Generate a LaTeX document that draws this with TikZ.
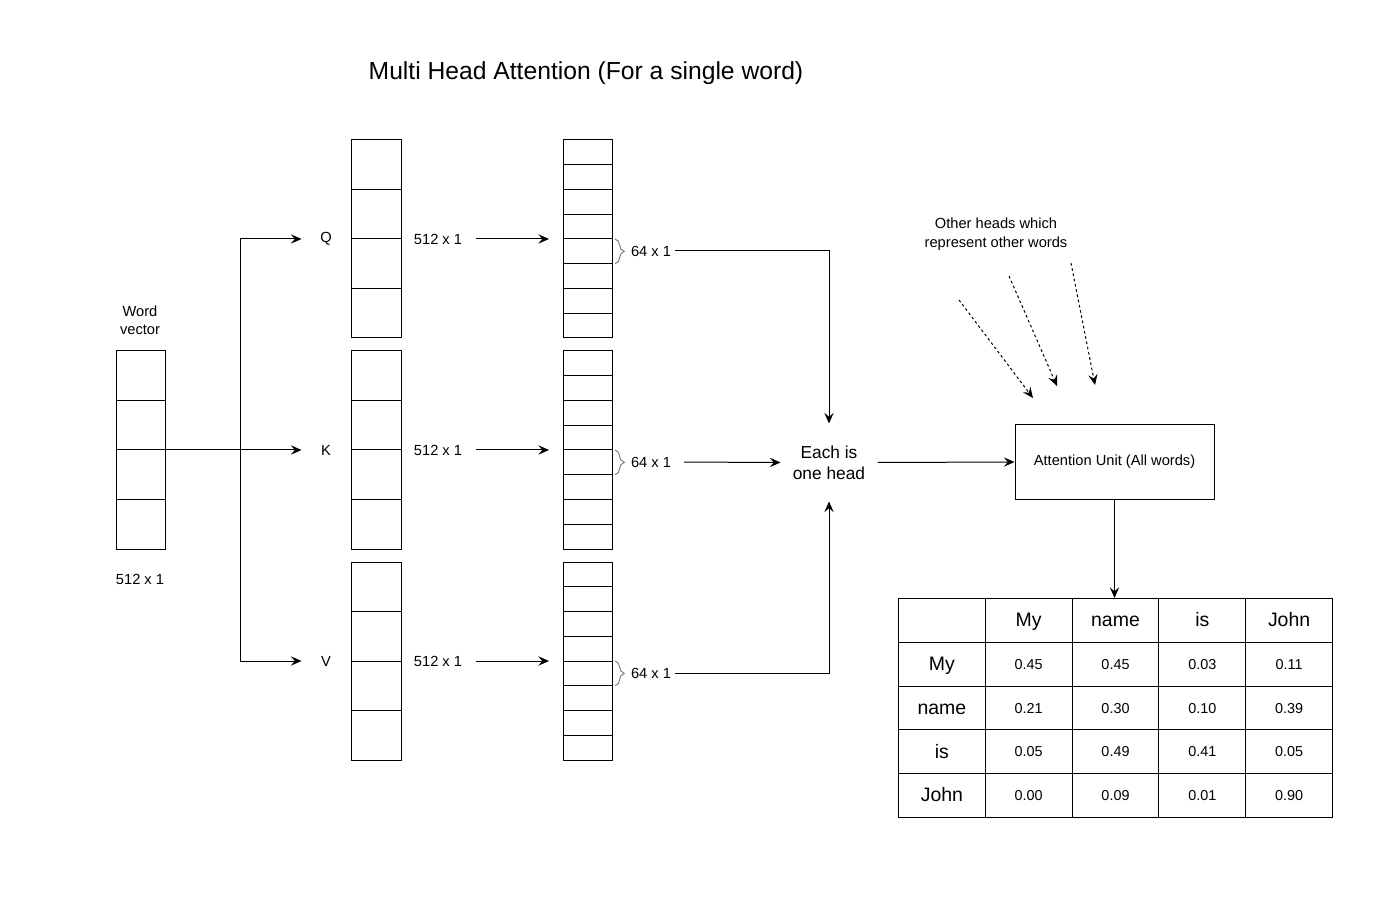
\documentclass[tikz,border=0pt]{standalone}
\usepackage{fontspec}
\setmainfont{Liberation Sans}
\usetikzlibrary{arrows.meta,calc,matrix,decorations.pathreplacing}

\tikzset{
  lbl/.style={font=\fontsize{11}{14}\selectfont, inner sep=0pt},
  vec/.style={draw, minimum width=37pt, minimum height=148.5pt, inner sep=0pt, outer sep=0pt},
  arr/.style={-{Stealth[length=8pt,width=7pt,inset=3pt]}},
  dotarr/.style={arr, dash pattern=on 2pt off 2pt},
  brc/.style={draw=gray, decorate, decoration={brace, amplitude=7pt}},
  hdcell/.style={font=\fontsize{14.6}{17}\selectfont, text height=11.5pt, text depth=2pt},
}

\begin{document}
\begin{tikzpicture}[x=0.75pt, y=-0.75pt, line width=0.75pt]
\useasboundingbox (0,0) rectangle (1378,898);

\node[lbl, font=\fontsize{18.5}{22}\selectfont] (title) at (586,73) {Multi Head Attention (For a single word)};

% word vector
\node[lbl, align=center, font=\fontsize{11}{13.5}\selectfont] (wvlbl) at (140,320) {Word\\vector};
\node[vec] (wv) at (141,450) {};
\node[lbl] (wvdim) at (140,579) {512 x 1};
\coordinate (split) at (240,450);

% Q, K, V
\node[lbl, minimum width=36pt] (q) at (326,239) {Q};
\node[lbl, minimum width=36pt] (k) at (326,450) {K};
\node[lbl, minimum width=36pt] (v) at (326,661) {V};
\node[vec] (qb) at (376.5,239) {};
\node[vec] (kb) at (376.5,450) {};
\node[vec] (vb) at (376.5,661) {};
\node[lbl, minimum width=56pt] (qdim) at (438,239) {512 x 1};
\node[lbl, minimum width=56pt] (kdim) at (438,450) {512 x 1};
\node[lbl, minimum width=56pt] (vdim) at (438,661) {512 x 1};
\node[vec, minimum width=36.75pt] (qs) at (587.5,239) {};
\node[vec, minimum width=36.75pt] (ks) at (587.5,450) {};
\node[vec, minimum width=36.75pt] (vs) at (587.5,661) {};

\foreach \n in {wv,qb,kb,vb}
  \foreach \i in {1,2,3}
    \draw ($(\n.north west)!\i/4!(\n.south west)$) -- ($(\n.north east)!\i/4!(\n.south east)$);
\foreach \n in {qs,ks,vs} {
  \foreach \i in {1,...,7}
    \draw ($(\n.north west)!\i/8!(\n.south west)$) -- ($(\n.north east)!\i/8!(\n.south east)$);
  \draw[brc] ($(\n.north east)!4/8!(\n.south east)+(3,0)$) -- ($(\n.north east)!5/8!(\n.south east)+(3,0)$);
}

% heads
\node[lbl, inner xsep=2.5pt] (qhd) at (651,251) {64 x 1};
\node[lbl, inner xsep=2.5pt] (khd) at (651,462) {64 x 1};
\node[lbl, inner xsep=2.5pt] (vhd) at (651,673) {64 x 1};
\node[lbl, align=center, font=\fontsize{13}{15.75}\selectfont, minimum width=72pt, minimum height=57.75pt] (head) at (829,462.5) {Each is\\one head};
\node[lbl, draw, minimum width=149.25pt, minimum height=55.5pt] (att) at (1114.5,462) {Attention Unit (All words)};
\node[lbl, align=center] (other) at (996,234) {Other heads which\\represent other words};

\coordinate (o1s) at (959,300);  \coordinate (o1e) at (1033,398);
\coordinate (o2s) at (1009,276); \coordinate (o2e) at (1057,386);
\coordinate (o3s) at (1071,263); \coordinate (o3e) at (1095,385);

% table
\matrix (tbl) [matrix of nodes, nodes in empty cells, anchor=north west, inner sep=0pt, outer sep=0pt,
  column sep=-0.75pt, row sep=-0.75pt,
  nodes={draw, anchor=center, minimum width=65.1pt, minimum height=32.85pt, inner sep=0pt, outer sep=0pt,
    font=\fontsize{10.8}{13}\selectfont, text height=7.8pt, text depth=0.2pt},
  row 1/.style={nodes=hdcell},
  column 1/.style={nodes=hdcell}] at (898,598) {
     & My   & name & is   & John \\
  My   & 0.45 & 0.45 & 0.03 & 0.11 \\
  name & 0.21 & 0.30 & 0.10 & 0.39 \\
  is   & 0.05 & 0.49 & 0.41 & 0.05 \\
  John & 0.00 & 0.09 & 0.01 & 0.90 \\
};

% connectors
\draw (wv.west) -- (split);
\draw[arr] (split) -- (k.west);
\draw[arr] (split) |- (q.west);
\draw[arr] (split) |- (v.west);
\draw[arr, shorten >=10.5pt] (qdim.east) -- (qs.west);
\draw[arr, shorten >=10.5pt] (kdim.east) -- (ks.west);
\draw[arr, shorten >=10.5pt] (vdim.east) -- (vs.west);
\draw[arr] (qhd.east) -| (head.north);
\draw[arr, shorten <=7pt] (khd.east) -- (head.west);
\draw[arr] (vhd.east) -| (head.south);
\draw[arr] (head.east) -- (att.west);
\draw[arr] (att.south) -- (att.south |- tbl.north);
\draw[dotarr] (o1s) -- (o1e);
\draw[dotarr] (o2s) -- (o2e);
\draw[dotarr] (o3s) -- (o3e);
\end{tikzpicture}
\end{document}
